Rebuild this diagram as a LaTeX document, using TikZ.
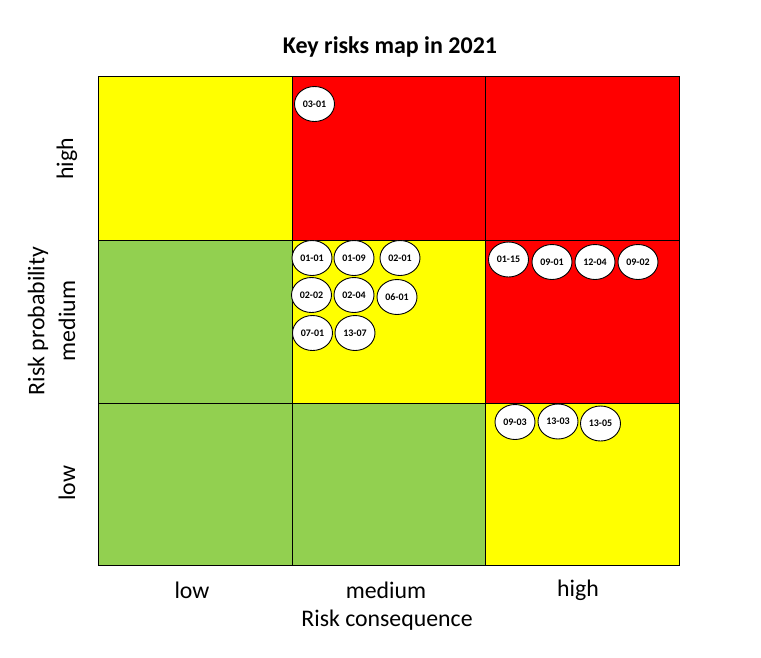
\documentclass[tikz,border=0pt]{standalone}
\usepackage{fontspec}
\setmainfont{Carlito}
\usetikzlibrary{shapes.geometric}
\definecolor{ryel}{HTML}{FFFF00}
\definecolor{rred}{HTML}{FF0000}
\definecolor{rgrn}{HTML}{92D050}
\tikzset{
  cell/.style={draw=black, line width=0.9pt},
  bub/.style={ellipse, draw=black, fill=white, line width=0.9pt, minimum width=40pt, minimum height=35pt, inner sep=0pt, font=\fontsize{10}{11}\selectfont\bfseries},
  axlab/.style={font=\fontsize{23.8}{26}\selectfont},
}
\begin{document}
\begin{tikzpicture}[x=1pt,y=-1pt]
\useasboundingbox (0,0) rectangle (761,657);
\fill[white] (0,0) rectangle (761,657);
% cells
\path[cell, fill=ryel] (98,76) rectangle (292,240);
\path[cell, fill=rred] (292,76) rectangle (485,240);
\path[cell, fill=rred] (485,76) rectangle (679,240);
\path[cell, fill=rgrn] (98,240) rectangle (292,403);
\path[cell, fill=ryel] (292,240) rectangle (485,403);
\path[cell, fill=rred] (485,240) rectangle (679,403);
\path[cell, fill=rgrn] (98,403) rectangle (292,565);
\path[cell, fill=rgrn] (292,403) rectangle (485,565);
\path[cell, fill=ryel] (485,403) rectangle (679,565);
% title
\node[font=\fontsize{24}{27}\selectfont\bfseries] (title) at (390,47) {Key risks map in 2021};
% axis labels
\node[axlab] (xlow) at (192,590) {low};
\node[axlab] (xmed) at (386,590) {medium};
\node[axlab] (xhigh) at (578,590) {high};
\node[axlab] (xtitle) at (387,620) {Risk consequence};
\node[axlab, rotate=90] (ylow) at (67,483) {low};
\node[axlab, rotate=90] (ymed) at (67,321) {medium};
\node[axlab, rotate=90] (yhigh) at (67,159) {high};
\node[axlab, rotate=90] (ytitle) at (38,321) {Risk probability};
% bubbles
\node[bub] (b0301) at (314.5,104) {03-01};
\node[bub] (b0101) at (312,258) {01-01};
\node[bub] (b0109) at (354,258) {01-09};
\node[bub] (b0201) at (400,258) {02-01};
\node[bub] (b0202) at (311.5,295) {02-02};
\node[bub] (b0204) at (354,295) {02-04};
\node[bub] (b0601) at (397,297) {06-01};
\node[bub] (b0701) at (312.5,333) {07-01};
\node[bub] (b1307) at (355,333) {13-07};
\node[bub] (b0115) at (508.5,259.5) {01-15};
\node[bub] (b0901) at (552,262) {09-01};
\node[bub] (b1204) at (595,262) {12-04};
\node[bub] (b0902) at (638,262) {09-02};
\node[bub] (b0903) at (515,422) {09-03};
\node[bub] (b1303) at (558,421.5) {13-03};
\node[bub] (b1305) at (600.5,423.5) {13-05};
\end{tikzpicture}
\end{document}
